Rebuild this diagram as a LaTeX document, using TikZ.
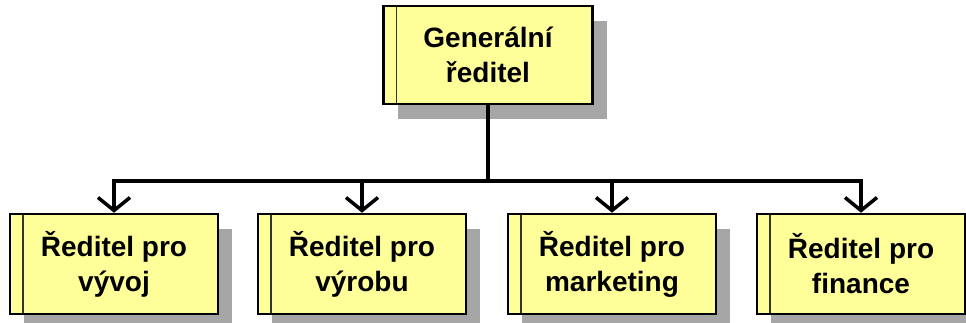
\documentclass[tikz,border=0pt]{standalone}
\usepackage{fontspec}
\setmainfont{Liberation Sans}
\usetikzlibrary{arrows.meta,shadows}
\definecolor{boxyellow}{HTML}{FFFF99}
\definecolor{shadowgray}{HTML}{A6A6A6}
\definecolor{stripe}{HTML}{333333}
\tikzset{
  orgbox/.style={draw=black, line width=2.5pt, fill=boxyellow,
    minimum width=208pt, minimum height=98pt, inner sep=0pt,
    align=center, font=\fontsize{28}{35}\selectfont\bfseries,
    drop shadow={shadow xshift=14pt, shadow yshift=-15pt, fill=shadowgray, opacity=1},
    path picture={\draw[stripe, line width=1.6pt]
      ([xshift=13pt]path picture bounding box.north west) --
      ([xshift=13pt]path picture bounding box.south west);}},
  conn/.style={draw=black, line width=4pt, line join=miter},
  arr/.style={conn, -{Straight Barb[length=13pt, width=32pt, line width=3.5pt]}}
}
\begin{document}
\begin{tikzpicture}[x=1pt,y=-1pt]
\useasboundingbox (0,0) rectangle (966,323);
\node[orgbox, minimum width=209pt] (top) at (488,55) {Generální\\ředitel};
\node[orgbox, minimum height=100pt] (b1) at (114,264) {Ředitel pro\\vývoj};
\node[orgbox, minimum height=100pt] (b2) at (362,264) {Ředitel pro\\výrobu};
\node[orgbox, minimum height=100pt] (b3) at (612,264) {Ředitel pro\\marketing};
\node[orgbox, minimum height=100pt] (b4) at (861,264) {Ředitel pro\\finance};
\coordinate (bus) at (488,181);
\draw[conn] (top.south) -- (bus);
\foreach \n in {b1,b2,b3,b4}{
  \draw[arr] (bus) -| (\n.north);
}
\end{tikzpicture}
\end{document}
